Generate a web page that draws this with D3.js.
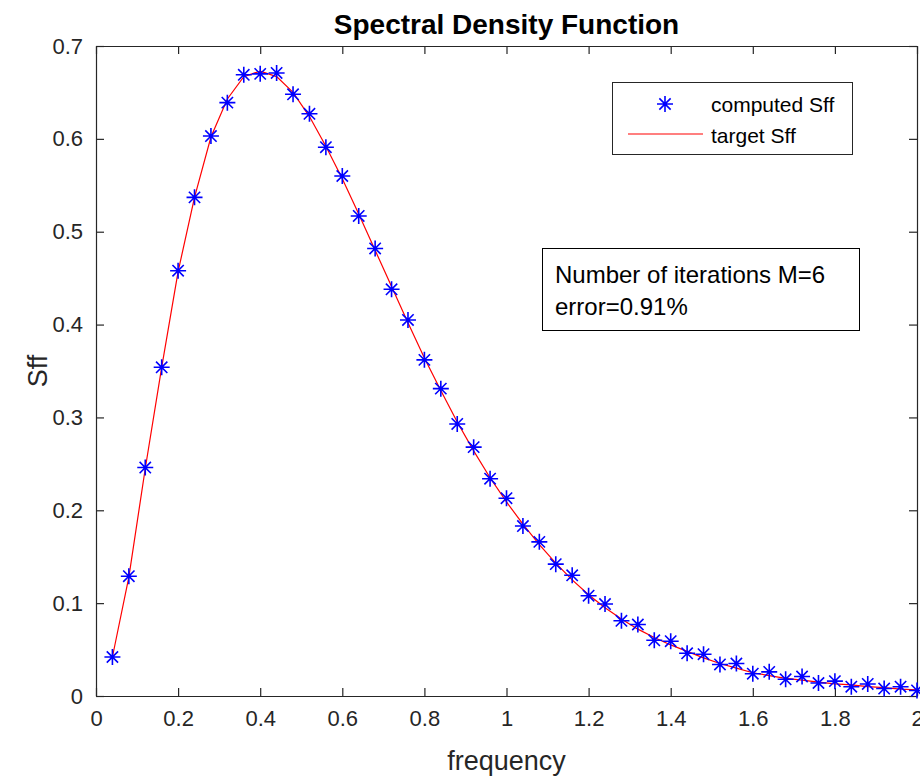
<!DOCTYPE html>
<html>
<head>
<meta charset="utf-8">
<script src="https://cdn.jsdelivr.net/npm/d3@7"></script>
<style>
  body { margin: 0; background: #fff; }
  svg { display: block; font-family: "Liberation Sans", Arial, Helvetica, sans-serif; }
</style>
</head>
<body>
<svg id="chart" width="920" height="778"></svg>
<script>
// Frequencies at which the spectrum is sampled
const frequency = [
  0.04, 0.08, 0.12, 0.16, 0.20, 0.24, 0.28, 0.32, 0.36, 0.40,
  0.44, 0.48, 0.52, 0.56, 0.60, 0.64, 0.68, 0.72, 0.76, 0.80,
  0.84, 0.88, 0.92, 0.96, 1.00, 1.04, 1.08, 1.12, 1.16, 1.20,
  1.24, 1.28, 1.32, 1.36, 1.40, 1.44, 1.48, 1.52, 1.56, 1.60,
  1.64, 1.68, 1.72, 1.76, 1.80, 1.84, 1.88, 1.92, 1.96, 2.00
];

// Spectrum obtained after the iterations
const computedSff = [
  0.042, 0.129, 0.246, 0.354, 0.458, 0.537, 0.603, 0.639, 0.669, 0.670,
  0.671, 0.648, 0.627, 0.591, 0.560, 0.517, 0.482, 0.438, 0.405, 0.362,
  0.331, 0.293, 0.268, 0.234, 0.213, 0.183, 0.166, 0.142, 0.130, 0.108,
  0.099, 0.081, 0.077, 0.060, 0.059, 0.046, 0.045, 0.034, 0.035, 0.024,
  0.026, 0.018, 0.021, 0.014, 0.016, 0.010, 0.013, 0.008, 0.010, 0.006
];

// Target spectrum
const targetSff = [
  0.042, 0.128, 0.245, 0.354, 0.457, 0.537, 0.602, 0.643, 0.667, 0.673,
  0.667, 0.650, 0.624, 0.592, 0.557, 0.519, 0.480, 0.441, 0.402, 0.364,
  0.329, 0.295, 0.264, 0.235, 0.209, 0.185, 0.163, 0.143, 0.125, 0.109,
  0.095, 0.083, 0.072, 0.063, 0.055, 0.048, 0.041, 0.035, 0.030, 0.025,
  0.022, 0.019, 0.017, 0.015, 0.013, 0.012, 0.010, 0.009, 0.0075, 0.0065
];

const xTicks = [0, 0.2, 0.4, 0.6, 0.8, 1, 1.2, 1.4, 1.6, 1.8, 2];
const yTicks = [0, 0.1, 0.2, 0.3, 0.4, 0.5, 0.6, 0.7];
const legendLabels = ["computed Sff", "target Sff"];
const noteLines = ["Number of iterations M=6", "error=0.91%"];

const axisColor = "#262626";
const svg = d3.select("#chart");
const plot = { left: 96, right: 917, top: 46, bottom: 696 };

const x = d3.scaleLinear().domain([0, 2]).range([plot.left, plot.right]);
const y = d3.scaleLinear().domain([0, 0.7]).range([plot.bottom, plot.top]);

const tickLen = 8;
const tickFont = 22;

// Axes: bottom/left carry labels, top/right mirror the ticks
const fmt = d => d3.format("~g")(d);
const bottomAxis = d3.axisBottom(x).tickValues(xTicks).tickFormat(fmt).tickSizeInner(-tickLen).tickSizeOuter(0).tickPadding(14);
const topAxis = d3.axisTop(x).tickValues(xTicks).tickFormat("").tickSizeInner(-tickLen).tickSizeOuter(0);
const leftAxis = d3.axisLeft(y).tickValues(yTicks).tickFormat(fmt).tickSizeInner(-tickLen).tickSizeOuter(0).tickPadding(13);
const rightAxis = d3.axisRight(y).tickValues(yTicks).tickFormat("").tickSizeInner(-tickLen).tickSizeOuter(0);

function styleAxis(g) {
  g.select(".domain").attr("stroke", axisColor).attr("stroke-width", 1.2);
  g.selectAll(".tick line").attr("stroke", axisColor).attr("stroke-width", 1.2);
  g.selectAll(".tick text").attr("fill", axisColor).attr("font-size", tickFont)
    .attr("font-family", "'Liberation Sans', Arial, sans-serif");
}

svg.append("g").attr("transform", `translate(0,${plot.bottom})`).call(bottomAxis).call(styleAxis);
svg.append("g").attr("transform", `translate(0,${plot.top})`).call(topAxis).call(styleAxis);
svg.append("g").attr("transform", `translate(${plot.left},0)`).call(leftAxis).call(styleAxis);
svg.append("g").attr("transform", `translate(${plot.right},0)`).call(rightAxis).call(styleAxis);

// Target curve
const line = d3.line().x((d, i) => x(frequency[i])).y(d => y(d));
svg.append("path")
  .datum(targetSff)
  .attr("d", line)
  .attr("fill", "none")
  .attr("stroke", "#ff0000")
  .attr("stroke-width", 1.2);

// Asterisk marker: vertical, horizontal and two diagonal strokes
function starPath(r) {
  const d = r * Math.SQRT1_2;
  return `M0,${-r}L0,${r}M${-r},0L${r},0M${-d},${-d}L${d},${d}M${-d},${d}L${d},${-d}`;
}
const starR = 8;

svg.append("g").selectAll("path")
  .data(computedSff)
  .join("path")
  .attr("transform", (d, i) => `translate(${x(frequency[i])},${y(d)})`)
  .attr("d", starPath(starR))
  .attr("fill", "none")
  .attr("stroke", "#0000ff")
  .attr("stroke-width", 1.6);

// Title and axis labels
svg.append("text")
  .attr("x", (plot.left + plot.right) / 2).attr("y", 34)
  .attr("text-anchor", "middle")
  .attr("font-size", 28).attr("font-weight", "bold").attr("fill", "#000")
  .text("Spectral Density Function");

svg.append("text")
  .attr("x", (plot.left + plot.right) / 2).attr("y", 770)
  .attr("text-anchor", "middle")
  .attr("font-size", 27).attr("fill", axisColor)
  .text("frequency");

svg.append("text")
  .attr("transform", `translate(47,${(plot.top + plot.bottom) / 2}) rotate(-90)`)
  .attr("text-anchor", "middle")
  .attr("font-size", 27).attr("fill", axisColor)
  .text("Sff");

// Legend
const legend = svg.append("g");
legend.append("rect")
  .attr("x", 612.5).attr("y", 82.5).attr("width", 240).attr("height", 72)
  .attr("fill", "#fff").attr("stroke", axisColor).attr("stroke-width", 1);
legend.append("path")
  .attr("transform", "translate(665,104)")
  .attr("d", starPath(starR))
  .attr("fill", "none").attr("stroke", "#0000ff").attr("stroke-width", 1.6);
legend.append("line")
  .attr("x1", 628).attr("x2", 703).attr("y1", 134).attr("y2", 134)
  .attr("stroke", "#ff0000").attr("stroke-width", 1.2);
legend.selectAll("text.lg")
  .data(legendLabels)
  .join("text")
  .attr("class", "lg")
  .attr("x", 711).attr("y", (d, i) => 112 + i * 31)
  .attr("font-size", 21).attr("fill", "#000")
  .text(d => d);

// Annotation box
const note = svg.append("g");
note.append("rect")
  .attr("x", 542.5).attr("y", 248.5).attr("width", 317).attr("height", 82)
  .attr("fill", "#fff").attr("stroke", "#000").attr("stroke-width", 1);
note.selectAll("text")
  .data(noteLines)
  .join("text")
  .attr("x", 555).attr("y", (d, i) => 283 + i * 32)
  .attr("font-size", 24).attr("fill", "#000")
  .text(d => d);
</script>
</body>
</html>
